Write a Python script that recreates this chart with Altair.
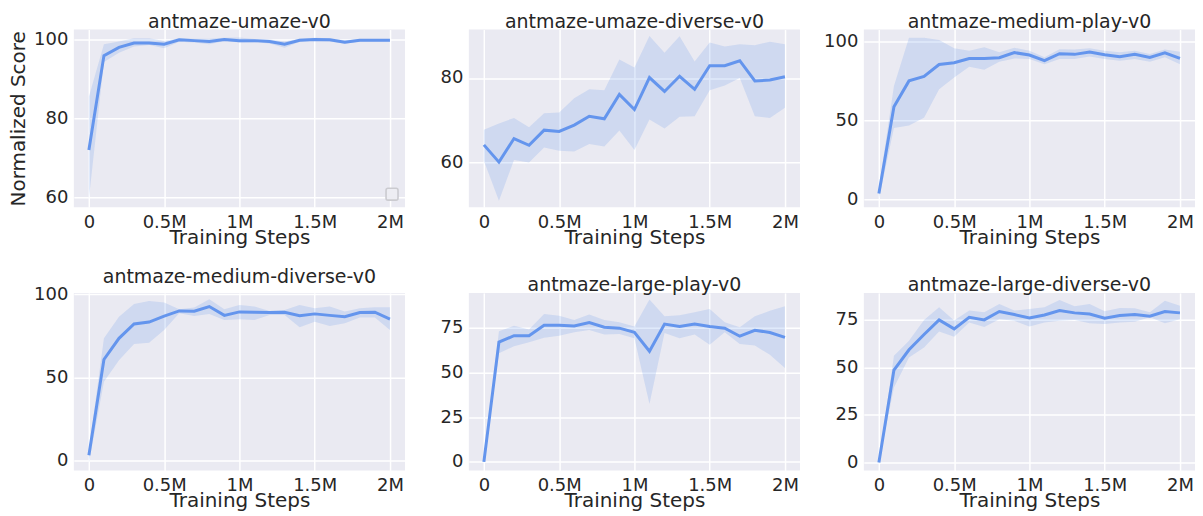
import altair as alt
import pandas as pd

FONT = "DejaVu Sans"
TEXT = "#262626"
LINE = "#6495ED"
BG = "#EAEAF2"

steps = [0.0, 0.1, 0.2, 0.3, 0.4, 0.5, 0.6, 0.7, 0.8, 0.9, 1.0,
         1.1, 1.2, 1.3, 1.4, 1.5, 1.6, 1.7, 1.8, 1.9, 2.0]

titles = ["antmaze-umaze-v0", "antmaze-umaze-diverse-v0", "antmaze-medium-play-v0",
          "antmaze-medium-diverse-v0", "antmaze-large-play-v0", "antmaze-large-diverse-v0"]

# antmaze-umaze-v0
umaze_mean = [72.0, 95.9, 98.0, 99.1, 99.1, 98.8, 99.9, 99.7, 99.5, 100.0, 99.7,
              99.7, 99.5, 98.8, 99.8, 100.0, 99.9, 99.3, 99.8, 99.8, 99.8]
umaze_low = [59.6, 94.3, 96.6, 98.2, 98.6, 97.8, 99.4, 99.2, 98.8, 99.6, 99.2,
             99.3, 99.0, 97.9, 99.4, 99.7, 99.5, 98.9, 99.5, 99.5, 99.5]
umaze_high = [85.5, 98.8, 99.5, 100.3, 100.3, 99.6, 100.3, 100.2, 100.2, 100.4, 100.5,
              100.1, 100.0, 99.5, 100.2, 100.4, 100.3, 99.8, 100.1, 100.1, 100.1]

# antmaze-umaze-diverse-v0
umd_mean = [64.1, 60.0, 65.6, 64.0, 67.6, 67.3, 68.8, 70.9, 70.3, 76.1, 72.5,
            80.1, 76.8, 80.4, 77.3, 82.9, 82.9, 84.1, 79.3, 79.5, 80.3]
umd_low = [60.3, 50.8, 60.5, 59.9, 63.5, 62.7, 62.5, 64.3, 63.7, 67.5, 62.9,
           70.1, 68.0, 70.8, 70.9, 77.1, 78.2, 80.0, 70.9, 70.5, 72.9]
umd_high = [67.7, 69.2, 70.5, 68.3, 71.6, 71.8, 75.2, 77.3, 77.1, 84.4, 82.5,
            90.0, 86.0, 89.9, 83.9, 88.4, 87.5, 88.0, 87.8, 88.6, 88.0]

# antmaze-medium-play-v0
mp_mean = [3.6, 58.5, 74.9, 77.7, 85.3, 86.4, 89.1, 89.1, 89.6, 92.8, 91.3,
           87.7, 92.1, 91.7, 93.2, 91.5, 90.2, 91.7, 89.8, 92.6, 89.1]
mp_low = [0.1, 45.1, 46.6, 51.5, 69.6, 77.0, 83.8, 81.9, 87.0, 89.1, 88.7,
          85.5, 88.7, 88.7, 90.4, 88.7, 87.7, 88.7, 87.0, 89.8, 85.5]
mp_high = [6.8, 71.7, 102.3, 102.3, 100.8, 95.5, 94.0, 96.2, 93.0, 95.9, 94.0,
           89.8, 95.0, 94.7, 95.5, 94.0, 93.0, 94.0, 91.9, 94.7, 93.4]

# antmaze-medium-diverse-v0
md_mean = [3.2, 60.8, 73.5, 82.1, 83.3, 86.9, 90.0, 89.8, 92.6, 87.3, 89.4,
           89.2, 89.0, 89.2, 87.1, 88.2, 87.3, 86.5, 89.0, 89.2, 85.1]
md_low = [-1.4, 47.4, 60.4, 70.1, 70.9, 78.5, 88.6, 86.9, 88.2, 84.5, 84.9,
          84.5, 87.5, 87.5, 80.1, 83.5, 80.9, 82.5, 86.1, 86.1, 78.5]
md_high = [6.2, 73.5, 86.5, 94.2, 96.0, 95.0, 91.0, 92.0, 97.0, 91.0, 93.6,
           92.6, 90.0, 90.6, 93.6, 91.6, 92.6, 89.6, 91.6, 92.2, 92.2]

# antmaze-large-play-v0
lp_mean = [0.0, 66.9, 70.5, 70.5, 76.3, 76.3, 75.9, 77.8, 75.2, 74.7, 72.4,
           61.8, 77.0, 75.7, 77.0, 75.6, 74.7, 70.2, 73.5, 72.3, 69.6]
lp_low = [0.0, 60.7, 64.6, 66.9, 69.3, 70.5, 72.4, 73.7, 71.1, 71.5, 69.1,
          32.4, 72.0, 69.1, 71.1, 65.4, 72.4, 65.9, 65.0, 59.8, 52.5]
lp_high = [0.0, 73.0, 76.1, 73.9, 82.6, 81.7, 79.3, 82.3, 79.3, 78.0, 75.6,
           90.7, 81.3, 81.9, 83.6, 85.4, 78.0, 75.2, 81.3, 84.5, 86.9]

# antmaze-large-diverse-v0
ld_mean = [0.0, 48.6, 59.3, 67.3, 75.0, 70.3, 76.4, 75.0, 79.4, 77.8, 76.0,
           77.6, 79.9, 78.7, 78.1, 75.9, 77.3, 77.8, 76.9, 79.4, 78.7]
ld_low = [0.0, 39.5, 55.2, 60.5, 68.9, 66.1, 73.6, 71.3, 75.4, 74.5, 71.5,
          73.6, 74.5, 75.0, 73.3, 72.9, 73.6, 74.0, 76.4, 73.3, 75.4]
ld_high = [0.0, 56.1, 64.0, 75.0, 81.6, 74.7, 79.9, 79.0, 83.4, 79.9, 80.8,
           81.6, 85.5, 82.2, 83.4, 79.5, 81.3, 81.1, 79.0, 85.1, 82.5]

series = [
    (umaze_mean, umaze_low, umaze_high),
    (umd_mean, umd_low, umd_high),
    (mp_mean, mp_low, mp_high),
    (md_mean, md_low, md_high),
    (lp_mean, lp_low, lp_high),
    (ld_mean, ld_low, ld_high),
]
y_domains = [[57.5, 102.5], [49.3, 91.5], [-5.1, 107.4], [-5.9, 100.8], [-4.8, 94.4], [-4.2, 89.2]]
y_ticks = [[60, 80, 100], [60, 80], [0, 50, 100], [0, 50, 100], [0, 25, 50, 75], [0, 25, 50, 75]]
x_ticks = [0, 0.5, 1, 1.5, 2]

W, H = 332, 178


def panel(i):
    mean, low, high = series[i]
    df = pd.DataFrame({"step": steps, "mean": mean, "low": low, "high": high})
    x = alt.X("step:Q", scale=alt.Scale(domain=[-0.1, 2.1], nice=False, zero=False),
              axis=alt.Axis(values=x_ticks, title="Training Steps",
                            labelExpr="datum.value == 0 ? '0' : datum.value + 'M'"))
    ytitle = "Normalized Score" if i == 0 else ""
    y_scale = alt.Scale(domain=y_domains[i], nice=False, zero=False)
    base = alt.Chart(df)
    band = base.mark_area(color=LINE, opacity=0.2, clip=True).encode(
        x=x,
        y=alt.Y("low:Q", scale=y_scale,
                axis=alt.Axis(values=y_ticks[i], title=ytitle)),
        y2="high:Q",
    )
    line = base.mark_line(color=LINE, strokeWidth=3, clip=True).encode(
        x=x, y=alt.Y("mean:Q", scale=y_scale)
    )
    layers = [band, line]
    if i == 0:
        box = alt.Chart(pd.DataFrame({"k": [0]})).mark_rect(
            fill="#EDEDF3", stroke="#CBCBD0", strokeWidth=1.6, cornerRadius=2
        ).encode(x=alt.value(313), x2=alt.value(325), y=alt.value(159), y2=alt.value(171))
        layers.append(box)
    return alt.layer(*layers).properties(
        width=W, height=H,
        title=alt.TitleParams(titles[i], offset=-2),
    )


chart = alt.concat(
    *[panel(i) for i in range(6)],
    columns=3, spacing={"row": 86, "column": 64}, bounds="flush",
).properties(
    padding={"left": 0, "top": 4, "right": 0, "bottom": 0},
    background="white",
).configure_view(
    fill=BG, strokeWidth=0
).configure_axis(
    grid=True, gridColor="white", gridWidth=1.5, domain=False, ticks=False,
    labelFont=FONT, labelFontSize=18, labelColor=TEXT, labelOverlap=False,
    titleFont=FONT, titleFontSize=20, titleFontWeight="normal", titleColor=TEXT,
).configure_axisX(
    labelPadding=6, titlePadding=-4
).configure_axisY(
    labelPadding=6, titlePadding=5
).configure_title(
    font=FONT, fontSize=19, fontWeight="normal", color=TEXT
)

chart.save("out.html", embed_options={"renderer": "svg", "actions": False})
